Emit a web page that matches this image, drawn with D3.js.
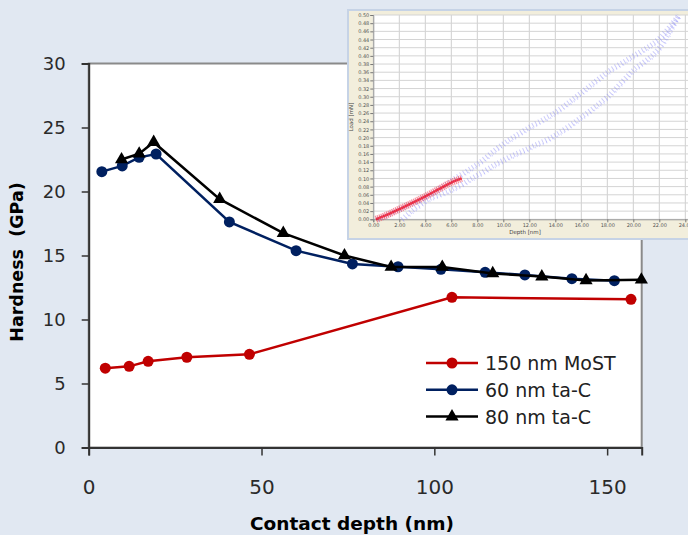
<!DOCTYPE html>
<html>
<head>
<meta charset="utf-8">
<script src="https://cdn.jsdelivr.net/npm/d3@7"></script>
<style>
  html, body { margin: 0; padding: 0; background: #e1e8f2; }
  svg { display: block; }
  text { font-family: "DejaVu Sans", sans-serif; }
</style>
</head>
<body>
<svg id="chart" width="688" height="535"></svg>
<script>
// Main chart data: [contact depth (nm), hardness (GPa)]
const mostData = [[4.8, 6.2], [11.7, 6.34], [17.2, 6.73], [28.4, 7.05], [46.5, 7.28], [105.1, 11.73], [156.9, 11.58]];
const tac60Data = [[3.8, 21.55], [9.7, 22.0], [14.6, 22.67], [19.5, 22.93], [40.7, 17.62], [60, 15.38], [76.3, 14.34],
  [89.5, 14.12], [101.9, 13.92], [114.7, 13.69], [126.2, 13.48], [139.8, 13.19], [152.1, 13.03]];
const tac80Data = [[9.5, 22.5], [14.6, 22.95], [18.8, 23.85], [37.9, 19.4], [56.3, 16.75], [74, 15.0], [87.5, 14.1],
  [102.3, 14.1], [116.9, 13.6], [131.1, 13.35], [143.9, 13.05], [159.9, 13.1]];
const seriesNames = ["150 nm MoST", "60 nm ta-C", "80 nm ta-C"];
const xTicks = [0, 50, 100, 150];
const yTicks = [0, 5, 10, 15, 20, 25, 30];

// Inset (load vs depth) traces: [depth (nm), load (mN)]
const insetRed = [[0.2, 0], [1, 0.01], [2, 0.025], [3, 0.04], [4, 0.056], [5, 0.073], [6, 0.09], [6.8, 0.1]];
const insetBlueUp = [[0.3, 0], [2, 0.025], [4, 0.055], [6, 0.095], [8, 0.135], [10, 0.185], [12, 0.225], [14, 0.262],
  [16, 0.31], [18, 0.36], [20, 0.4], [22, 0.443], [23.5, 0.5]];
const insetBlueDown = [[2.2, 0], [4, 0.045], [6, 0.072], [8, 0.108], [10, 0.145], [12, 0.175], [14, 0.206],
  [16, 0.25], [18, 0.3], [20, 0.365], [22, 0.42], [23.5, 0.5]];
const insetXTicks = d3.range(0, 25, 2);
const insetYTicks = d3.range(0, 0.5001, 0.02);

const svg = d3.select("#chart");

// ---- main plot ----
const x = d3.scaleLinear().domain([0, 160]).range([88.7, 641.7]);
const y = d3.scaleLinear().domain([0, 30]).range([447.5, 63.5]);

svg.append("rect")
  .attr("x", x(0)).attr("y", y(30))
  .attr("width", x(160) - x(0)).attr("height", y(0) - y(30))
  .attr("fill", "#fff").attr("stroke", "#8a8a8a").attr("stroke-width", 2);

const yAxis = svg.append("g")
  .attr("transform", `translate(${x(0)},0)`)
  .call(d3.axisLeft(y).tickValues(yTicks).tickSize(7).tickPadding(16));
const xAxis = svg.append("g")
  .attr("transform", `translate(0,${y(0)})`)
  .call(d3.axisBottom(x).tickValues(xTicks).tickSize(8).tickPadding(24));
[yAxis, xAxis].forEach((g) => {
  g.select(".domain").attr("stroke", "#333").attr("stroke-width", 2);
  g.selectAll(".tick line").attr("stroke", "#333").attr("stroke-width", 1.5);
  g.selectAll(".tick text").attr("fill", "#2a2a2a").style("font-family", "DejaVu Sans, sans-serif");
});
yAxis.selectAll(".tick text").style("font-size", "18px");
xAxis.selectAll(".tick text").style("font-size", "20px");

svg.append("text")
  .attr("x", 352).attr("y", 530)
  .attr("text-anchor", "middle")
  .style("font-size", "18.5px").style("font-weight", "bold")
  .text("Contact depth (nm)");
svg.append("text")
  .attr("transform", "translate(23,262) rotate(-90)")
  .attr("text-anchor", "middle")
  .style("font-size", "17.5px").style("font-weight", "bold")
  .style("white-space", "pre")
  .text("Hardness  (GPa)");

const line = d3.line().x((d) => x(d[0])).y((d) => y(d[1]));
const series = [
  { name: seriesNames[0], data: mostData, color: "#c00000", marker: "circle" },
  { name: seriesNames[1], data: tac60Data, color: "#002060", marker: "circle" },
  { name: seriesNames[2], data: tac80Data, color: "#000000", marker: "triangle" }
];
const tri = d3.symbol().type(d3.symbolTriangle).size(75);

series.forEach((s) => {
  svg.append("path").datum(s.data)
    .attr("d", line).attr("fill", "none")
    .attr("stroke", s.color).attr("stroke-width", 2.5);
  if (s.marker === "circle") {
    svg.append("g").selectAll("circle").data(s.data).join("circle")
      .attr("cx", (d) => x(d[0])).attr("cy", (d) => y(d[1]))
      .attr("r", 5.5).attr("fill", s.color);
  } else {
    svg.append("g").selectAll("path").data(s.data).join("path")
      .attr("d", tri)
      .attr("transform", (d) => `translate(${x(d[0])},${y(d[1])})`)
      .attr("fill", s.color);
  }
});

// legend
const legend = svg.append("g").attr("transform", "translate(426,363)");
series.forEach((s, i) => {
  const g = legend.append("g").attr("transform", `translate(0,${i * 26.8})`);
  g.append("line").attr("x1", 0).attr("x2", 52).attr("stroke", s.color).attr("stroke-width", 2.5);
  if (s.marker === "circle") {
    g.append("circle").attr("cx", 26).attr("r", 5.5).attr("fill", s.color);
  } else {
    g.append("path").attr("d", tri).attr("transform", "translate(26,0)").attr("fill", s.color);
  }
  g.append("text").attr("x", 59).attr("y", 7)
    .style("font-size", "19px").attr("fill", "#222").text(s.name);
});

// ---- inset ----
const inset = svg.append("g");
inset.append("rect")
  .attr("x", 348).attr("y", 10).attr("width", 350).attr("height", 229)
  .attr("fill", "#f2eedc").attr("stroke", "#c6d3e6").attr("stroke-width", 2);

const ix = d3.scaleLinear().domain([0, 24.4]).range([373.3, 690.5]);
const iy = d3.scaleLinear().domain([0, 0.5]).range([219.3, 15]);

inset.append("rect")
  .attr("x", ix(0)).attr("y", iy(0.5))
  .attr("width", ix(24.4) - ix(0)).attr("height", iy(0) - iy(0.5))
  .attr("fill", "#fff");
inset.append("g").selectAll("line.v").data(insetXTicks).join("line")
  .attr("x1", (d) => ix(d)).attr("x2", (d) => ix(d))
  .attr("y1", iy(0)).attr("y2", iy(0.5))
  .attr("stroke", "#cfcfcf").attr("stroke-width", 1);
inset.append("g").selectAll("line.h").data(insetYTicks).join("line")
  .attr("x1", ix(0)).attr("x2", ix(24.4))
  .attr("y1", (d) => iy(d)).attr("y2", (d) => iy(d))
  .attr("stroke", "#d4d4d4").attr("stroke-width", 1);

const iyAxis = inset.append("g")
  .attr("transform", `translate(${ix(0)},0)`)
  .call(d3.axisLeft(iy).tickValues(insetYTicks).tickFormat(d3.format(".2f")).tickSize(3).tickPadding(1));
const ixAxis = inset.append("g")
  .attr("transform", `translate(0,${iy(0)})`)
  .call(d3.axisBottom(ix).tickValues(insetXTicks).tickFormat(d3.format(".2f")).tickSize(3).tickPadding(1));
[iyAxis, ixAxis].forEach((g) => {
  g.select(".domain").attr("stroke", "#999");
  g.selectAll(".tick line").attr("stroke", "#777");
  g.selectAll(".tick text").attr("fill", "#555").style("font-size", "5px");
});
inset.append("text")
  .attr("x", 525).attr("y", 234).attr("text-anchor", "middle")
  .style("font-size", "5.5px").attr("fill", "#444").text("Depth [nm]");
inset.append("text")
  .attr("transform", "translate(353,117) rotate(-90)").attr("text-anchor", "middle")
  .style("font-size", "5.5px").attr("fill", "#444").text("Load [mN]");

const iline = d3.line().x((d) => ix(d[0])).y((d) => iy(d[1])).curve(d3.curveMonotoneX);
[insetBlueUp, insetBlueDown].forEach((pts) => {
  inset.append("path").datum(pts).attr("d", iline).attr("fill", "none")
    .attr("stroke", "#8c8cf5").attr("stroke-width", 5).attr("stroke-opacity", 0.45)
    .attr("stroke-dasharray", "1 2.5");
  inset.append("path").datum(pts).attr("d", iline).attr("fill", "none")
    .attr("stroke", "#a0a0ff").attr("stroke-width", 2).attr("stroke-opacity", 0.5)
    .attr("stroke-dasharray", "0.8 3.3").attr("transform", "translate(1.5,2)");
});
inset.append("path").datum(insetRed).attr("d", iline).attr("fill", "none")
  .attr("stroke", "#f2243a").attr("stroke-width", 7).attr("stroke-opacity", 0.5)
  .attr("stroke-dasharray", "1.2 0.8");
inset.append("path").datum(insetRed).attr("d", iline).attr("fill", "none")
  .attr("stroke", "#e8001c").attr("stroke-width", 2.5).attr("stroke-opacity", 0.7);
</script>
</body>
</html>
